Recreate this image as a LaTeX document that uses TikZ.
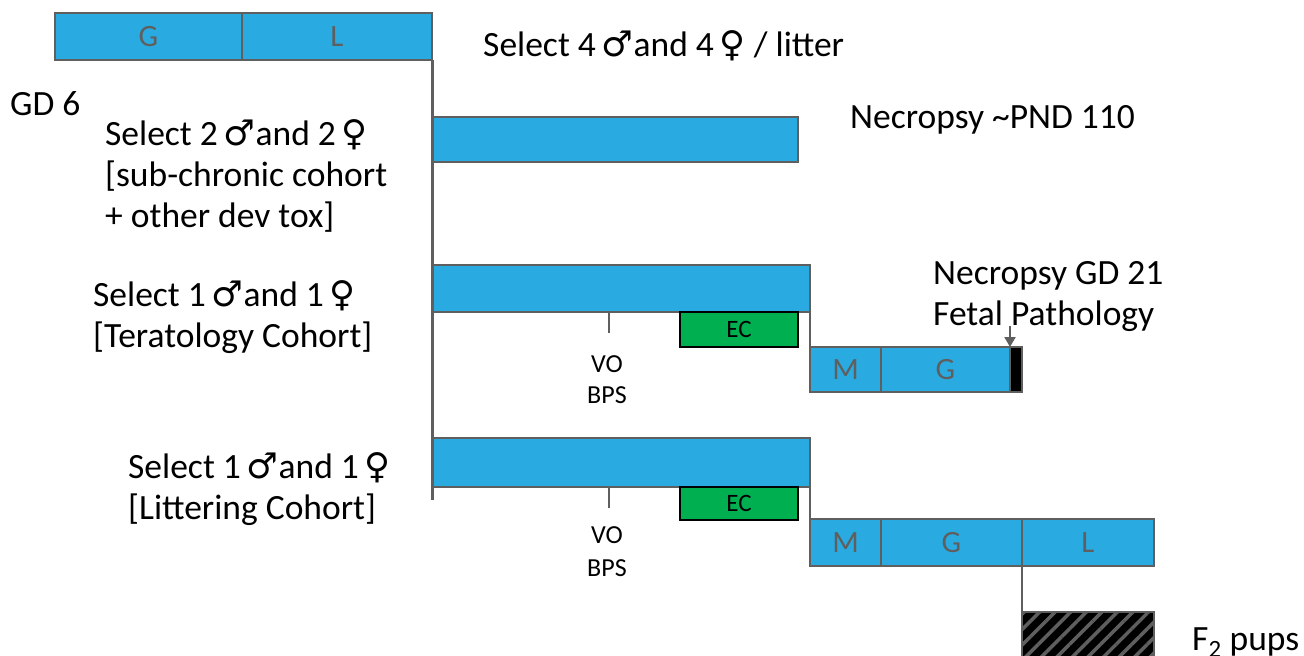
\documentclass[tikz,border=0pt]{standalone}
\usepackage{fontspec}
\setmainfont{Carlito}
\newfontfamily\symf{DejaVu Sans}
\usetikzlibrary{arrows.meta,patterns.meta}
\definecolor{barblue}{HTML}{29ABE2}
\definecolor{ecgreen}{HTML}{00B050}
\definecolor{edgegray}{HTML}{5F5F5F}
\newcommand{\ml}{{\symf\char"2642}}
\newcommand{\fm}{{\symf\char"2640}}
\tikzset{
  seg/.style={draw=edgegray, line width=2.5pt, fill=barblue, anchor=north west, inner sep=0pt, outer sep=0pt,
    text=edgegray, font=\fontsize{31}{36}\selectfont},
  ecbox/.style={draw=black, line width=2pt, fill=ecgreen, anchor=north west, inner sep=0pt, outer sep=0pt,
    font=\fontsize{25}{28}\selectfont},
  lab/.style={anchor=base west, inner sep=0pt, align=left, font=\fontsize{35.5}{41}\selectfont},
  small/.style={anchor=base, inner sep=0pt, align=center, font=\fontsize{26}{33}\selectfont},
  conn/.style={draw=edgegray, line width=2.5pt},
}
\begin{document}
\begin{tikzpicture}[x=1pt,y=-1pt]
\useasboundingbox (0,0) rectangle (1304,656);
% top bar
\node[seg, minimum width=187pt, minimum height=47pt] (tG) at (55,13) {G};
\node[seg, minimum width=190pt, minimum height=47pt] (tL) at (242,13) {L};
% cohort bars
\node[seg, minimum width=366pt, minimum height=45pt] (b2) at (432,117) {};
\node[seg, minimum width=378pt, minimum height=47pt] (b3) at (432,265) {};
\node[seg, minimum width=378pt, minimum height=49pt] (b4) at (432,438) {};
% main spine
\coordinate (spineEnd) at (432,500);
\draw[conn, line width=3pt] (tL.south east) -- (spineEnd);
% teratology
\node[ecbox, minimum width=118pt, minimum height=35pt] (ec1) at (680,312) {EC};
\coordinate (t1) at (609,333);
\draw[conn] (b3.south west -| t1) -- (t1);
\node[small] (vo1) at (607,372) {VO};
\node[small] (bps1) at (607,403) {BPS};
\node[seg, minimum width=71pt, minimum height=45pt] (m1) at (810,347) {M};
\node[seg, minimum width=129pt, minimum height=45pt] (g1) at (881,347) {G};
\node[seg, fill=black, minimum width=12pt, minimum height=45pt] (k1) at (1010,347) {};
\draw[conn] (b3.south east) -- (m1.north west);
\coordinate (arrTop) at (1010,326);
\draw[draw=edgegray, line width=2pt, -{Triangle[width=11pt,length=10pt]}, fill=edgegray] (arrTop) -- (k1.north west);
% littering
\node[ecbox, minimum width=118pt, minimum height=33pt] (ec2) at (680,487) {EC};
\coordinate (t2) at (609,508);
\draw[conn] (b4.south west -| t2) -- (t2);
\node[small] (vo2) at (607,543) {VO};
\node[small] (bps2) at (607,576) {BPS};
\node[seg, minimum width=71pt, minimum height=47pt] (m2) at (810,519) {M};
\node[seg, minimum width=141pt, minimum height=47pt] (g2) at (881,519) {G};
\node[seg, minimum width=132pt, minimum height=47pt] (l2) at (1022,519) {L};
\draw[conn] (b4.south east) -- (m2.north west);
% F2 pups hatched box
\coordinate (hTL) at (1022,612);
\coordinate (hTR) at (1154,612);
\coordinate (hBL) at (1022,660);
\coordinate (hBR) at (1154,660);
\fill[black] (hTL) rectangle (hBR);
\fill[pattern={Lines[angle=45,distance=11pt,line width=3.5pt]}, pattern color=edgegray] (hTL) rectangle (hBR);
\draw[conn] (hBL) -- (hTL) -- (hTR) -- (hBR);
\draw[conn] (l2.south west) -- (hTL);
% labels (base = baseline of the last line)
\node[lab] (sel4) at (483,56) {Select 4\,\ml and 4\,\fm\ / litter};
\node[lab] (gd6) at (10,115) {GD 6};
\node[lab] (sel2) at (105,227) {Select 2\,\ml and 2\,\fm\\{}[sub-chronic cohort\\+ other dev tox]};
\node[lab] (necpnd) at (850,128) {Necropsy \textasciitilde PND 110};
\node[lab] (selT) at (93,347) {Select 1\,\ml and 1\,\fm\\{}[Teratology Cohort]};
\node[lab] (necgd) at (933,325) {Necropsy GD 21\\Fetal Pathology};
\node[lab] (selL) at (128,519) {Select 1\,\ml and 1\,\fm\\{}[Littering Cohort]};
\node[lab] (f2) at (1192,650) {F\textsubscript{2} pups};
\end{tikzpicture}
\end{document}
